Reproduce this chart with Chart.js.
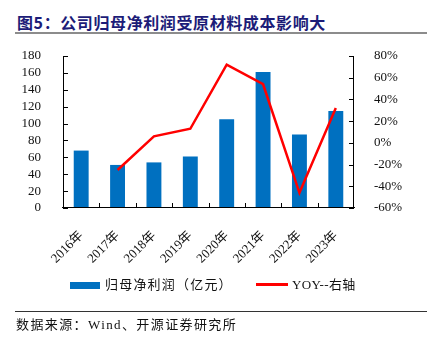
<!DOCTYPE html>
<html>
<head>
<meta charset="utf-8">
<script src="https://cdn.jsdelivr.net/npm/chart.js@4/dist/chart.umd.min.js"></script>
<style>
  html, body { margin: 0; padding: 0; background: #fff; }
  #wrap { position: relative; width: 427px; height: 342px; overflow: hidden; }
  #title {
    position: absolute; left: 17px; top: 11px;
    font: bold 16px "Noto Sans CJK SC", sans-serif; color: #1c1c78;
    white-space: nowrap; line-height: 22px; letter-spacing: 0.6px;
  }
  #titleLine { position: absolute; left: 15px; top: 32px; width: 412px; height: 2px; background: #8c8c8c; }
  #chartBox { position: absolute; left: 0; top: 0; width: 427px; height: 342px; }
  .leg { position: absolute; top: 276px; font: 13px "Liberation Serif", "Noto Sans CJK SC", serif; color: #111; white-space: nowrap; line-height: 18px; letter-spacing: 1.2px; }
  .sw-bar { position: absolute; left: 70px; top: 282px; width: 30px; height: 7px; background: #0070C0; }
  .sw-line { position: absolute; left: 256px; top: 283px; width: 32px; height: 3px; background: #ff0000; }
  #footLine { position: absolute; left: 15px; top: 311px; width: 412px; height: 1px; background: #333; }
  #source {
    position: absolute; left: 16px; top: 316px;
    font: 13px "Liberation Serif", "Noto Sans CJK SC", serif; color: #111;
    white-space: nowrap; line-height: 18px; letter-spacing: 1.4px;
  }
</style>
</head>
<body>
<div id="wrap">
  <div id="title">图5：公司归母净利润受原材料成本影响大</div>
  <div id="titleLine"></div>
  <div id="chartBox"><canvas id="chart" width="427" height="342"></canvas></div>
  <div class="sw-bar"></div>
  <div class="leg" style="left:105px;">归母净利润（亿元）</div>
  <div class="sw-line"></div>
  <div class="leg" style="left:292px; letter-spacing:0.3px;">YOY--右轴</div>
  <div id="footLine"></div>
  <div id="source">数据来源：Wind、开源证券研究所</div>
</div>
<script>
  const years = ['2016年', '2017年', '2018年', '2019年', '2020年', '2021年', '2022年', '2023年'];
  const profit = [68, 51, 54, 61, 105, 161, 87, 115];
  const yoy = [null, -25, 6, 13, 72, 54, -46, 32];

  const serif = '"Liberation Serif", "Noto Sans CJK SC", serif';

  // 画坐标轴和朝内的刻度线
  const axisPlugin = {
    id: 'axisPlugin',
    afterDatasetsDraw(chart) {
      const c = chart.ctx;
      const a = chart.chartArea;
      const yl = chart.scales.y;
      const yr = chart.scales.y1;
      c.save();
      c.strokeStyle = '#000';
      c.lineWidth = 1;
      c.beginPath();
      c.moveTo(a.left + 0.5, a.top);
      c.lineTo(a.left + 0.5, a.bottom);
      c.moveTo(a.right - 0.5, a.top);
      c.lineTo(a.right - 0.5, a.bottom);
      c.moveTo(a.left - 1, a.bottom - 0.5);
      c.lineTo(a.right + 1, a.bottom - 0.5);
      yl.ticks.forEach((t) => {
        const p = Math.round(yl.getPixelForValue(t.value)) + 0.5;
        c.moveTo(a.left, p);
        c.lineTo(a.left + 5, p);
      });
      yr.ticks.forEach((t) => {
        const p = Math.round(yr.getPixelForValue(t.value)) + 0.5;
        c.moveTo(a.right, p);
        c.lineTo(a.right - 5, p);
      });
      const w = (a.right - a.left) / years.length;
      for (let i = 1; i < years.length; i++) {
        const x = Math.round(a.left + i * w) + 0.5;
        c.moveTo(x, a.bottom);
        c.lineTo(x, a.bottom - 5);
      }
      c.stroke();
      c.restore();
    },
  };

  const ctx = document.getElementById('chart').getContext('2d');

  new Chart(ctx, {
    data: {
      labels: years,
      datasets: [
        {
          type: 'line',
          label: 'YOY--右轴',
          data: yoy,
          yAxisID: 'y1',
          borderColor: '#ff0000',
          borderWidth: 2.5,
          pointRadius: 0,
          tension: 0,
          order: 0,
        },
        {
          type: 'bar',
          label: '归母净利润（亿元）',
          data: profit,
          yAxisID: 'y',
          backgroundColor: '#0070C0',
          borderWidth: 0,
          barPercentage: 0.82,
          categoryPercentage: 0.5,
          order: 1,
        },
      ],
    },
    options: {
      responsive: false,
      animation: false,
      layout: { padding: { top: 56, bottom: 74, left: 0, right: 0 } },
      plugins: { legend: { display: false }, tooltip: { enabled: false } },
      scales: {
        x: {
          offset: true,
          grid: { display: false },
          border: { display: false },
          ticks: {
            font: { family: serif, size: 13 },
            color: '#111',
            minRotation: 45,
            maxRotation: 45,
            padding: 12,
            autoSkip: false,
          },
          afterFit(s) { s.height = 60; },
        },
        y: {
          position: 'left',
          min: 0,
          max: 180,
          grid: { display: false },
          border: { display: false },
          ticks: {
            stepSize: 20,
            autoSkip: false,
            font: { family: serif, size: 13 },
            color: '#111',
            padding: 14,
          },
          afterFit(s) { s.width = 63; },
        },
        y1: {
          position: 'right',
          min: -60,
          max: 80,
          grid: { display: false },
          border: { display: false },
          ticks: {
            stepSize: 20,
            autoSkip: false,
            font: { family: serif, size: 13 },
            color: '#111',
            padding: 12,
            callback: (v) => v + '%',
          },
          afterFit(s) { s.width = 73; },
        },
      },
    },
    plugins: [axisPlugin],
  });
</script>
</body>
</html>
